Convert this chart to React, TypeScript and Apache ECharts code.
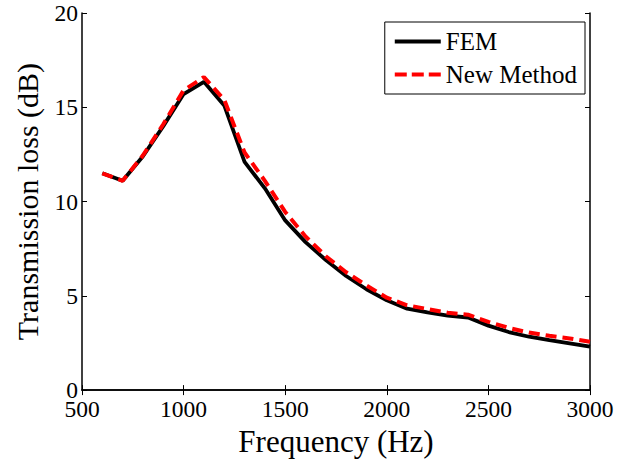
import React, { useEffect, useRef } from "react";
import * as echarts from "echarts";

const frequencies = [600, 700, 800, 900, 1000, 1100, 1200, 1300, 1400, 1500, 1600, 1700, 1800, 1900, 2000, 2100, 2200, 2300, 2400, 2500, 2600, 2700, 2800, 2900, 3000];
const femValues = [11.5, 11.1, 12.4, 14.0, 15.7, 16.35, 15.1, 12.1, 10.7, 9.0, 7.85, 6.9, 6.05, 5.35, 4.76, 4.32, 4.12, 3.95, 3.85, 3.42, 3.08, 2.83, 2.65, 2.48, 2.3];
const newMethodValues = [11.5, 11.1, 12.45, 14.1, 15.9, 16.6, 15.4, 12.6, 11.1, 9.45, 8.15, 7.1, 6.25, 5.55, 4.9, 4.5, 4.3, 4.1, 4.0, 3.62, 3.3, 3.05, 2.88, 2.74, 2.56];
const seriesNames = ["FEM", "New Method"];

const FONT = "Liberation Serif";

export default function App() {
  const ref = useRef<HTMLDivElement>(null);
  useEffect(() => {
    if (!ref.current) return;
    const chart = echarts.init(ref.current, null, { renderer: "svg" });
    const axisLine = { show: true, lineStyle: { color: "#000", width: 1.5 } };
    const tick = { show: true, inside: true, length: 5, lineStyle: { color: "#000", width: 1 } };
    const fmt = (v: number) => String(v);
    chart.setOption({
      animation: false,
      backgroundColor: "#fff",
      textStyle: { fontFamily: FONT },
      grid: { left: 82, right: 41, top: 13, bottom: 70 },
      legend: {
        orient: "vertical",
        right: 46,
        top: 22,
        data: [
          { name: seriesNames[0], icon: "path://M0,0H46V4H0Z" },
          { name: seriesNames[1], icon: "path://M0,0H12V4H0Z M17,0H29V4H17Z M34,0H46V4H34Z" },
        ],
        itemWidth: 46,
        itemHeight: 4,
        itemGap: 8,
        padding: [7, 8, 7, 10],
        borderColor: "#000",
        borderWidth: 1,
        borderRadius: 0,
        backgroundColor: "#fff",
        textStyle: { fontFamily: FONT, fontSize: 25, lineHeight: 25, color: "#000" },
      },
      xAxis: [
        {
          type: "value",
          min: 500,
          max: 3000,
          interval: 500,
          axisLine,
          axisTick: tick,
          splitLine: { show: false },
          axisLabel: { fontFamily: FONT, fontSize: 23.5, color: "#000", margin: 7, formatter: fmt },
          name: "Frequency (Hz)",
          nameLocation: "middle",
          nameGap: 34,
          nameTextStyle: { fontFamily: FONT, fontSize: 31, color: "#000" },
        },
        {
          type: "value",
          position: "top",
          min: 500,
          max: 3000,
          interval: 500,
          axisLine,
          axisTick: tick,
          splitLine: { show: false },
          axisLabel: { show: false },
        },
      ],
      yAxis: [
        {
          type: "value",
          min: 0,
          max: 20,
          interval: 5,
          axisLine,
          axisTick: tick,
          splitLine: { show: false },
          axisLabel: { fontFamily: FONT, fontSize: 23.5, color: "#000", margin: 4, formatter: fmt },
          name: "Transmission loss (dB)",
          nameLocation: "middle",
          nameGap: 40,
          nameTextStyle: { fontFamily: FONT, fontSize: 30, color: "#000" },
        },
        {
          type: "value",
          position: "right",
          min: 0,
          max: 20,
          interval: 5,
          axisLine,
          axisTick: tick,
          splitLine: { show: false },
          axisLabel: { show: false },
        },
      ],
      series: [
        {
          name: seriesNames[0],
          type: "line",
          data: frequencies.map((f, i) => [f, femValues[i]]),
          symbol: "none",
          lineStyle: { color: "#000", width: 3.8 },
          itemStyle: { color: "#000" },
          z: 2,
        },
        {
          name: seriesNames[1],
          type: "line",
          data: frequencies.map((f, i) => [f, newMethodValues[i]]),
          symbol: "none",
          lineStyle: { color: "#ff0000", width: 4, type: [11, 6] },
          itemStyle: { color: "#ff0000" },
          z: 3,
        },
      ],
    });
    return () => chart.dispose();
  }, []);
  return <div ref={ref} style={{ width: 631, height: 462, position: "absolute", left: 0, top: 0 }} />;
}
